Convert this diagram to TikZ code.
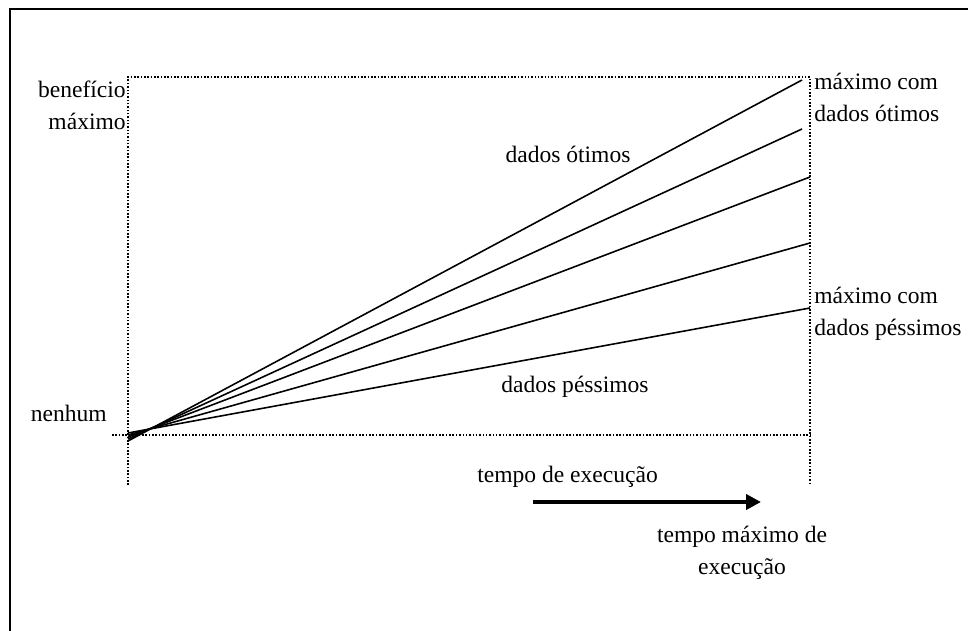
\documentclass[tikz,border=0pt]{standalone}
\usepackage{fontspec}
\setmainfont{Liberation Serif}
\usetikzlibrary{arrows.meta}
\begin{document}
\begin{tikzpicture}[x=0.02cm,y=-0.02cm,
    frame/.style={line width=1.1pt},
    guide/.style={densely dotted,line width=0.9pt},
    gain/.style={line width=0.9pt},
    lbl/.style={font=\fontsize{13.4}{18.7}\selectfont,inner sep=0pt},
  ]
  \useasboundingbox (0,0) rectangle (968,631);
  \draw[frame] (10,631) -- (10,9) -- (968,9);
  % dotted box
  \coordinate (TL) at (128,77);
  \coordinate (TR) at (810,77);
  \coordinate (BL) at (128,485);
  \coordinate (BR) at (810,485);
  \coordinate (NL) at (112,435);
  \coordinate (NR) at (810,435);
  \draw[guide] (BL) -- (TL) -- (TR) -- (BR);
  \draw[guide] (NL) -- (NR);
  % benefit lines
  \foreach \n/\sy/\ex/\ey in {a/441/802/80,b/439/802/129,c/437/810/177,d/435/810/243,e/433/810/308}{
      \coordinate (s\n) at (128,\sy);
      \coordinate (e\n) at (\ex,\ey);
      \draw[gain] (s\n) -- (e\n);
    }
  % labels (base = last line)
  \node[lbl,anchor=base east,align=right] (maxb) at (126,130) {benefício\\máximo};
  \node[lbl,anchor=base east] (none) at (107,422) {nenhum};
  \node[lbl,anchor=base] (best) at (568,163) {dados ótimos};
  \node[lbl,anchor=base] (worst) at (575,393) {dados péssimos};
  \node[lbl,anchor=base west,align=left] (maxbest) at (814,122) {máximo com\\dados ótimos};
  \node[lbl,anchor=base west,align=left] (maxworst) at (814,336) {máximo com\\dados péssimos};
  \node[lbl,anchor=base west] (time) at (477,483) {tempo de execução};
  \node[lbl,anchor=base,align=center] (tmax) at (742,575) {tempo máximo de\\execução};
  % arrow
  \coordinate (a0) at (533,502);
  \coordinate (a1) at (761,502);
  \draw[line width=2.2pt,-{Triangle[length=8.5pt,width=8.5pt]}] (a0) -- (a1);
\end{tikzpicture}
\end{document}
